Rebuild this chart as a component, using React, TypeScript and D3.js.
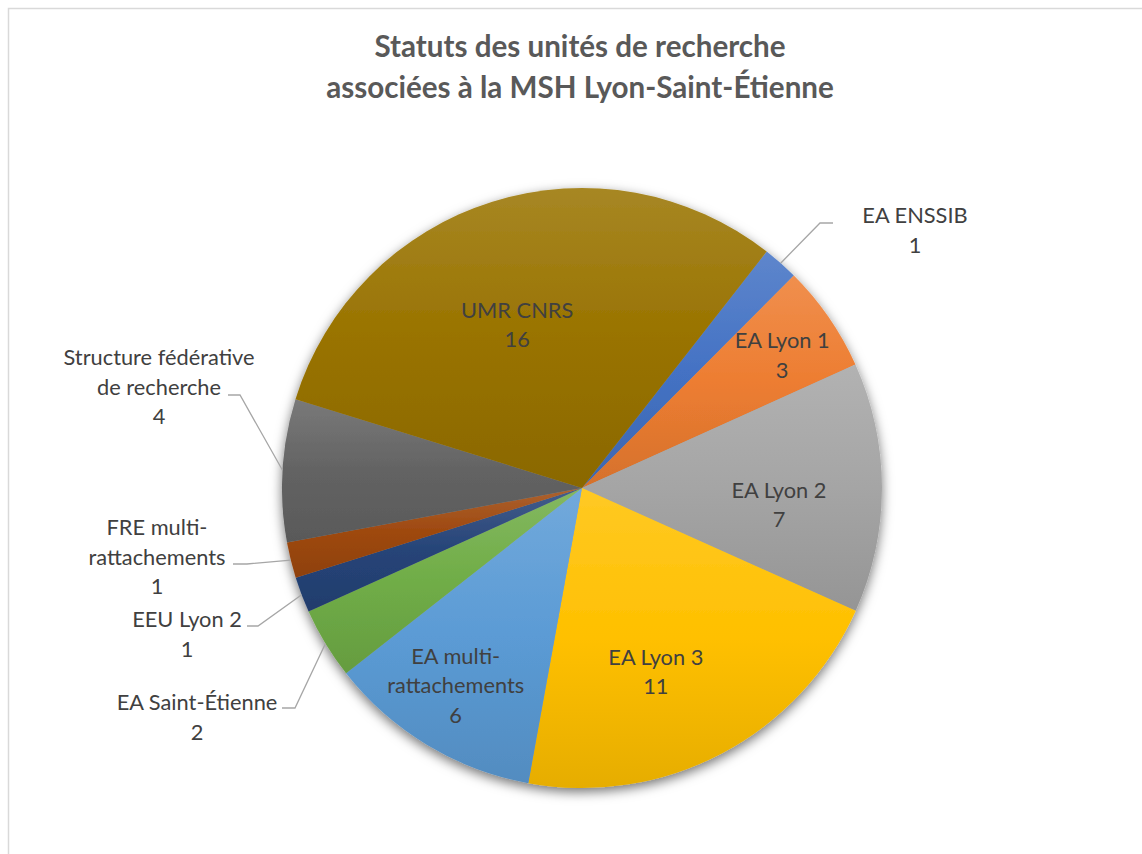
import React from "react";
import * as d3 from "d3";

const categories = [
  "EA ENSSIB",
  "EA Lyon 1",
  "EA Lyon 2",
  "EA Lyon 3",
  "EA multi-rattachements",
  "EA Saint-Étienne",
  "EEU Lyon 2",
  "FRE multi-rattachements",
  "Structure fédérative de recherche",
  "UMR CNRS",
];
const values = [1, 3, 7, 11, 6, 2, 1, 1, 4, 16];
const labelLines = [
  ["EA ENSSIB"],
  ["EA Lyon 1"],
  ["EA Lyon 2"],
  ["EA Lyon 3"],
  ["EA multi-", "rattachements"],
  ["EA Saint-Étienne"],
  ["EEU Lyon 2"],
  ["FRE multi-", "rattachements"],
  ["Structure fédérative", "de recherche"],
  ["UMR CNRS"],
];
const colors = [
  "#4472C4",
  "#ED7D31",
  "#A5A5A5",
  "#FFC000",
  "#5B9BD5",
  "#70AD47",
  "#264478",
  "#9E480E",
  "#636363",
  "#997300",
];
const titleLines = ["Statuts des unités de recherche", "associées à la MSH Lyon-Saint-Étienne"];

// layout (not data)
const W = 1142;
const H = 854;
const CX = 582;
const CY = 488;
const R = 300;
const START_DEG = 38;
const LH = 29.5;
const FONT = "Lato, 'Open Sans', sans-serif";

// inside labels: [radius factor, angle shift deg]
const insideLayout: Record<string, [number, number]> = {
  "EA Lyon 1": [0.8, 1.2],
  "EA Lyon 2": [0.659, 4.9],
  "EA Lyon 3": [0.661, 5.9],
  "EA multi-rattachements": [0.782, 1.5],
  "UMR CNRS": [0.585, -4.3],
};
// outside labels: text center x, first baseline y, elbow x,y, end x (relative to center)
const outsideLayout: Record<string, { tx: number; ty: number; ex: number; ey: number; hx: number }> = {
  "EA ENSSIB": { tx: 333, ty: -265, ex: 238, ey: -265, hx: 251 },
  "Structure fédérative de recherche": { tx: -423, ty: -123, ex: -342, ey: -93, hx: -354 },
  "FRE multi-rattachements": { tx: -425, ty: 47, ex: -335, ey: 76, hx: -349 },
  "EEU Lyon 2": { tx: -395, ty: 139, ex: -324, ey: 138, hx: -335 },
  "EA Saint-Étienne": { tx: -385, ty: 222, ex: -287, ey: 220, hx: -300 },
};

export default function App() {
  const data = categories.map((c, i) => ({ c, v: values[i], lines: labelLines[i], color: colors[i] }));
  const start = (START_DEG * Math.PI) / 180;
  const pie = d3
    .pie<any>()
    .value((d) => d.v)
    .sort(null)
    .startAngle(start)
    .endAngle(start + 2 * Math.PI);
  const arcs = pie(data);
  const arc = d3.arc<any>().innerRadius(0).outerRadius(R);

  const lighter = (c: string) => d3.interpolateRgb(c, "#ffffff")(0.14);
  const darker = (c: string) => {
    const r = d3.rgb(c);
    return d3.rgb(r.r * 0.9, r.g * 0.9, r.b * 0.9).formatHex();
  };

  return (
    <svg
      width={W}
      height={H}
      style={{ position: "absolute", left: 0, top: 0 }}
      xmlns="http://www.w3.org/2000/svg"
    >
      <defs>
        {arcs.map((a, i) => (
          <linearGradient key={i} id={`g${i}`} x1="0" y1="0" x2="0" y2="1">
            <stop offset="0" stopColor={lighter(a.data.color)} />
            <stop offset="0.5" stopColor={a.data.color} />
            <stop offset="1" stopColor={darker(a.data.color)} />
          </linearGradient>
        ))}
        <filter id="shadow" x="-20%" y="-20%" width="140%" height="140%">
          <feDropShadow dx="0" dy="4" stdDeviation="6" floodColor="#000" floodOpacity="0.55" />
        </filter>
      </defs>
      <rect x={0} y={0} width={W} height={H} fill="#fff" />
      <rect x={8.5} y={8.5} width={W + 20} height={H + 20} fill="#fff" stroke="#d9d9d9" strokeWidth={1.5} />
      <g fontFamily={FONT} fontWeight="bold" fill="#595959" fontSize={29.6} textAnchor="middle">
        {titleLines.map((t, i) => (
          <text key={i} x={580} y={57 + i * 41}>
            {t}
          </text>
        ))}
      </g>
      <g transform={`translate(${CX},${CY})`}>
        <g filter="url(#shadow)">
          {arcs.map((a, i) => (
            <path key={i} d={arc(a) as string} fill={`url(#g${i})`} />
          ))}
        </g>
        <g fontFamily={FONT} fontSize={21.8} fill="#404040" textAnchor="middle">
          {arcs.map((a, i) => {
            const name = a.data.c;
            const mid = (a.startAngle + a.endAngle) / 2;
            const lines = [...a.data.lines, String(a.data.v)];
            if (insideLayout[name]) {
              const [f, sh] = insideLayout[name];
              const ang = mid + (sh * Math.PI) / 180;
              const x = Math.sin(ang) * R * f;
              const y = -Math.cos(ang) * R * f;
              const y0 = y - ((lines.length - 1) / 2) * LH;
              return (
                <text key={i} x={x} y={y0} dy="0.35em">
                  {lines.map((l, j) => (
                    <tspan key={j} x={x} y={y0 + j * LH} dy="0.35em">
                      {l}
                    </tspan>
                  ))}
                </text>
              );
            }
            const o = outsideLayout[name];
            const sx = Math.sin(mid) * R;
            const sy = -Math.cos(mid) * R;
            const path = d3.path();
            path.moveTo(sx, sy);
            path.lineTo(o.ex, o.ey);
            path.lineTo(o.hx, o.ey);
            return (
              <g key={i}>
                <path d={path.toString()} fill="none" stroke="#a6a6a6" strokeWidth={1.3} />
                <text x={o.tx} y={o.ty}>
                  {lines.map((l, j) => (
                    <tspan key={j} x={o.tx} y={o.ty + j * LH}>
                      {l}
                    </tspan>
                  ))}
                </text>
              </g>
            );
          })}
        </g>
      </g>
    </svg>
  );
}
